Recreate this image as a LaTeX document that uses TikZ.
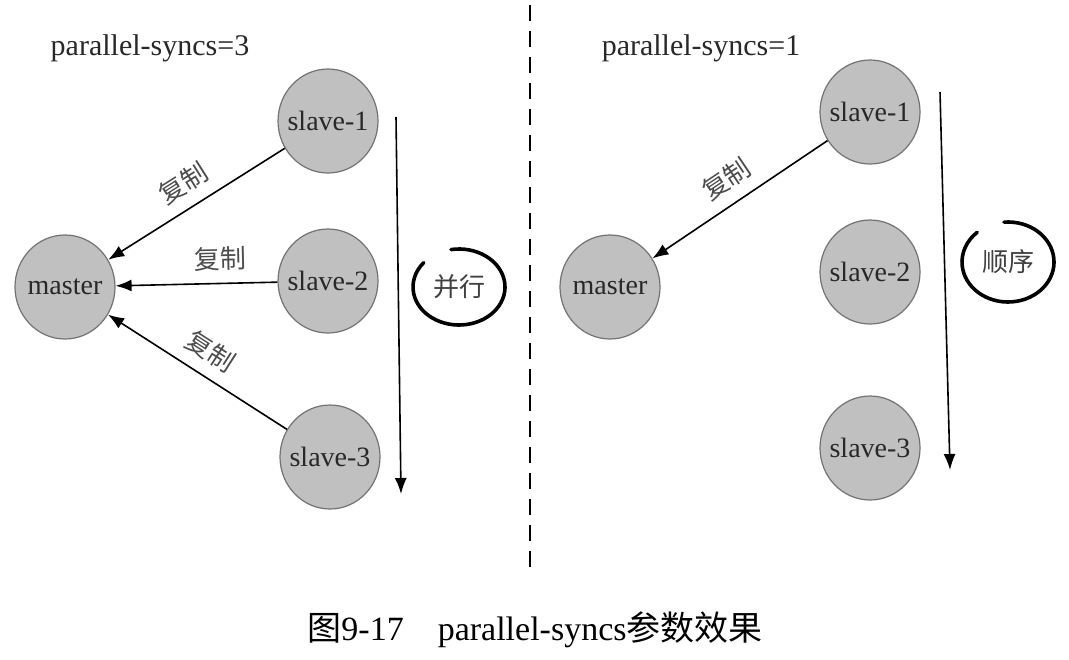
\documentclass[tikz,border=0pt]{standalone}
\usepackage{fontspec}
\setmainfont{Liberation Serif}
\newfontfamily\cjk{Noto Sans CJK SC}
\usetikzlibrary{arrows.meta,positioning,shapes.geometric}
\definecolor{nodefill}{RGB}{192,192,192}
\definecolor{nodeline}{RGB}{115,115,115}
\definecolor{inktext}{RGB}{40,40,40}
\tikzstyle{server}=[ellipse, draw=nodeline, fill=nodefill, line width=0.6pt, minimum width=50pt, minimum height=52pt, inner xsep=-3pt, inner ysep=0pt, text=inktext, font=\fontsize{14pt}{16pt}\selectfont]
\tikzstyle{setting}=[text=inktext, font=\fontsize{15pt}{17pt}\selectfont]
\tikzstyle{copylabel}=[sloped, above, inner sep=6pt, text=black!70, font=\cjk\fontsize{13pt}{15pt}\selectfont]
\tikzstyle{handtext}=[text=black!75, font=\cjk\fontsize{13pt}{15pt}\selectfont]
\tikzstyle{handring}=[line width=1.8pt, line cap=round]
\tikzstyle{flowline}=[line width=0.8pt]
\tikzstyle{caption}=[text=black, font=\fontsize{17pt}{20pt}\selectfont]

\begin{document}
\begin{tikzpicture}[x=0.5pt,y=-0.5pt,>={Latex[length=8pt,width=6pt]},line join=round]
    \useasboundingbox (0,0) rectangle (1069,659);
    % left half: parallel-syncs=3
    \node [setting] (t1) at (150,48) {parallel-syncs=3};
    \node [server] (m1) at (65,287) {master};
    \node [server] (a1) at (328,121) {slave-1};
    \node [server] (a2) at (328,281) {slave-2};
    \node [server] (a3) at (330,457) {slave-3};
    \coordinate (s1) at (396,117);
    \coordinate (e1) at (401,494);
    \node [handtext] (p1) at (459,287) {并行};
    \draw [handring] (p1.center) ++(-100:46 and 38) arc [start angle=-100, end angle=220, x radius=46, y radius=38];
    \draw [->, flowline] (s1) -- (e1);
    \path [->, flowline]
    (a1) edge node [copylabel] {复制} (m1)
    (a2) edge node [copylabel, pos=0.35] {复制} (m1)
    (a3) edge node [copylabel] {复制} (m1);
    % divider
    \coordinate (d1) at (530,5);
    \coordinate (d2) at (530,567);
    \draw [line width=0.6pt, dash pattern=on 8pt off 5pt] (d1) -- (d2);
    % right half: parallel-syncs=1
    \node [setting] (t2) at (701,48) {parallel-syncs=1};
    \node [server] (m2) at (610,287) {master};
    \node [server] (b1) at (870,112) {slave-1};
    \node [server] (b2) at (870,272) {slave-2};
    \node [server] (b3) at (870,448) {slave-3};
    \coordinate (s2) at (940,92);
    \coordinate (e2) at (950,470);
    \node [handtext] (p2) at (1008,262) {顺序};
    \draw [handring] (p2.center) ++(-95:46 and 40) arc [start angle=-95, end angle=228, x radius=46, y radius=40];
    \draw [->, flowline] (s2) -- (e2);
    \path [->, flowline]
    (b1) edge node [copylabel] {复制} (m2);
    % caption
    \node [caption] (cap) at (535,630) {{\cjk 图}9-17\quad parallel-syncs{\cjk 参数效果}};
\end{tikzpicture}
\end{document}
